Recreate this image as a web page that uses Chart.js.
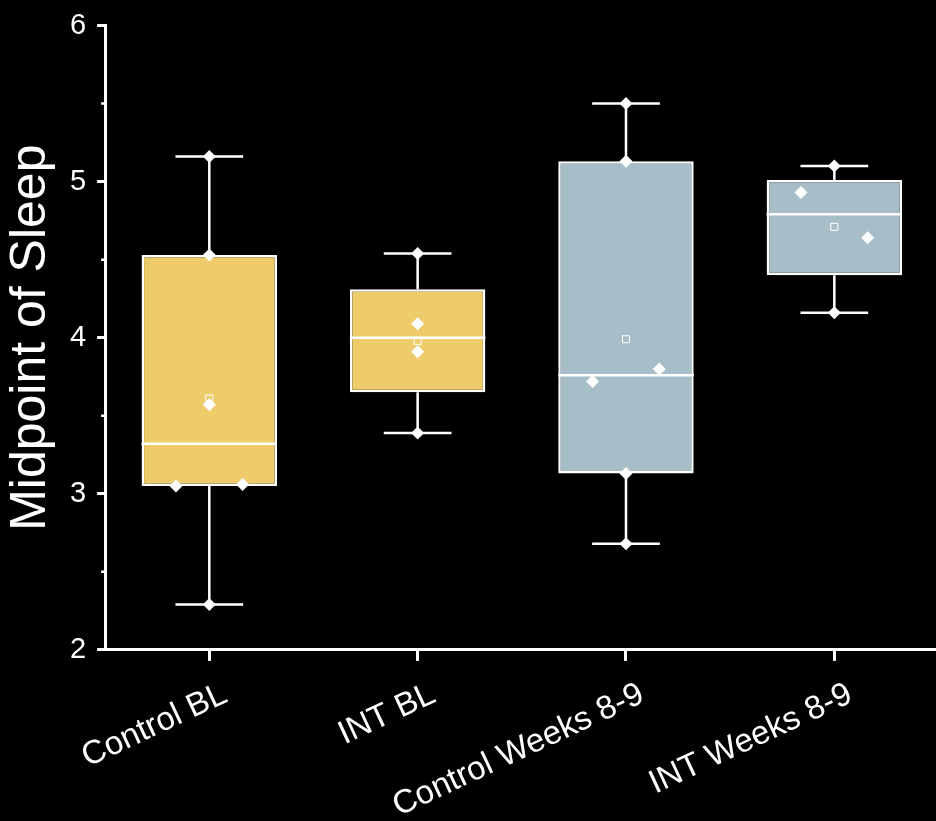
<!DOCTYPE html>
<html><head><meta charset="utf-8">
<script src="https://cdn.jsdelivr.net/npm/chart.js@4.4.1/dist/chart.umd.min.js"></script>
<style>html,body{margin:0;padding:0;background:#000;overflow:hidden;}#wrap{width:945px;height:821px;position:relative;}</style>
</head><body><div id="wrap"><canvas id="c"></canvas></div>
<script>
// ---- data ----
const categories = ['Control BL', 'INT BL', 'Control Weeks 8-9', 'INT Weeks 8-9'];
const whiskerLow  = [2.29, 3.39, 2.68, 4.16];
const q1          = [3.05, 3.65, 3.13, 4.40];
const medians     = [3.32, 4.00, 3.76, 4.79];
const q3          = [4.53, 4.31, 5.13, 5.01];
const whiskerHigh = [5.16, 4.54, 5.50, 5.10];
const means       = [3.61, 3.98, 3.99, 4.71];
const pointsControlBL  = [5.16, 4.53, 3.57, 3.05, 3.06, 2.29];
const pointsIntBL      = [4.54, 4.09, 3.91, 3.39];
const pointsControlW89 = [5.50, 5.13, 3.80, 3.72, 3.13, 2.68];
const pointsIntW89     = [5.10, 4.93, 4.64, 4.16];
// overlap shift direction of each point (-1 left, 0 centre, 1 right)
const shiftControlBL  = [0, 0, 0, -1, 1, 0];
const shiftIntBL      = [0, 0, 0, 0];
const shiftControlW89 = [0, 0, 1, -1, 0, 0];
const shiftIntW89     = [0, -1, 1, 0];
const yMajorTicks = [2, 3, 4, 5, 6];
const yMinorTicks = [2.5, 3.5, 4.5, 5.5];

// ---- styles ----
const boxColors = ['#EECC6B', '#EECC6B', '#A7BDC7', '#A7BDC7'];
const SHIFT = 0.16;
const FONT = '"Liberation Sans", Arial, sans-serif';

const allPoints = [pointsControlBL, pointsIntBL, pointsControlW89, pointsIntW89];
const allShifts = [shiftControlBL, shiftIntBL, shiftControlW89, shiftIntW89];
const pointData = [];
allPoints.forEach((arr, i) => arr.forEach((v, j) => pointData.push({x: i + allShifts[i][j] * SHIFT, y: v})));
const meanData = means.map((v, i) => ({x: i, y: v}));

const boxParts = {
  id: 'boxParts',
  afterDatasetDraw(chart, args) {
    if (args.index !== 0) return;
    const ctx = chart.ctx, y = chart.scales.y;
    const meta = chart.getDatasetMeta(0);
    ctx.save();
    ctx.strokeStyle = '#ffffff';
    ctx.lineWidth = 2.5;
    meta.data.forEach((bar, i) => {
      const cx = bar.x, hw = bar.width / 2, cw = hw / 2;
      const yl = y.getPixelForValue(whiskerLow[i]), yq1 = y.getPixelForValue(q1[i]);
      const ym = y.getPixelForValue(medians[i]), yq3 = y.getPixelForValue(q3[i]);
      const yh = y.getPixelForValue(whiskerHigh[i]);
      ctx.beginPath();
      ctx.moveTo(cx, yq3); ctx.lineTo(cx, yh);
      ctx.moveTo(cx, yq1); ctx.lineTo(cx, yl);
      ctx.moveTo(cx - cw, yh); ctx.lineTo(cx + cw, yh);
      ctx.moveTo(cx - cw, yl); ctx.lineTo(cx + cw, yl);
      ctx.moveTo(cx - hw, ym); ctx.lineTo(cx + hw, ym);
      ctx.stroke();
    });
    ctx.restore();
  },
  afterDraw(chart) {
    const ctx = chart.ctx, y = chart.scales.y, left = chart.chartArea.left;
    ctx.save();
    ctx.strokeStyle = '#ffffff';
    ctx.lineWidth = 2.5;
    ctx.beginPath();
    yMinorTicks.forEach(v => {
      const py = y.getPixelForValue(v);
      ctx.moveTo(left - 4, py); ctx.lineTo(left, py);
    });
    ctx.stroke();
    ctx.restore();
  }
};

new Chart(document.getElementById('c'), {
  type: 'bar',
  data: {
    labels: categories,
    datasets: [
      {
        type: 'bar', order: 3, grouped: false,
        data: q1.map((v, i) => [v, q3[i]]),
        backgroundColor: boxColors, borderColor: '#ffffff', borderWidth: 2.5, borderSkipped: false,
        categoryPercentage: 1, barPercentage: 0.65, xAxisID: 'x', yAxisID: 'y'
      },
      {
        type: 'scatter', order: 1, data: pointData, xAxisID: 'xp', yAxisID: 'y',
        pointStyle: 'rectRot', radius: 6.5, backgroundColor: '#ffffff', borderWidth: 0
      },
      {
        type: 'scatter', order: 0, data: meanData, xAxisID: 'xp', yAxisID: 'y',
        pointStyle: 'rect', radius: 5, backgroundColor: 'rgba(0,0,0,0)', borderColor: '#ffffff', borderWidth: 1
      }
    ]
  },
  options: {
    responsive: true, maintainAspectRatio: false, animation: false,
    layout: {padding: {top: 2, right: 0, bottom: -19, left: 0}},
    plugins: {legend: {display: false}, tooltip: {enabled: false}},
    scales: {
      x: {
        type: 'category', offset: true,
        grid: {offset: false, drawOnChartArea: false, drawTicks: true, tickLength: 11, tickColor: '#ffffff', tickWidth: 3},
        border: {color: '#ffffff', width: 3},
        ticks: {color: '#ffffff', font: {family: FONT, size: 33}, minRotation: 25, maxRotation: 25, padding: 14, labelOffset: 16}
      },
      xp: {type: 'linear', display: false, offset: false, min: -0.5, max: 3.5},
      y: {
        type: 'linear', min: 2, max: 6,
        afterBuildTicks: (s) => { s.ticks = yMajorTicks.map(v => ({value: v})); },
        grid: {drawOnChartArea: false, drawTicks: true, tickLength: 8, tickColor: '#ffffff', tickWidth: 3},
        border: {color: '#ffffff', width: 3},
        ticks: {color: '#ffffff', font: {family: FONT, size: 29, lineHeight: 1}, padding: 11},
        title: {display: true, text: 'Midpoint of Sleep', color: '#ffffff', font: {family: FONT, size: 50, lineHeight: 1}, padding: {top: 6, bottom: 3}}
      }
    }
  },
  plugins: [boxParts]
});
</script>
</body></html>
